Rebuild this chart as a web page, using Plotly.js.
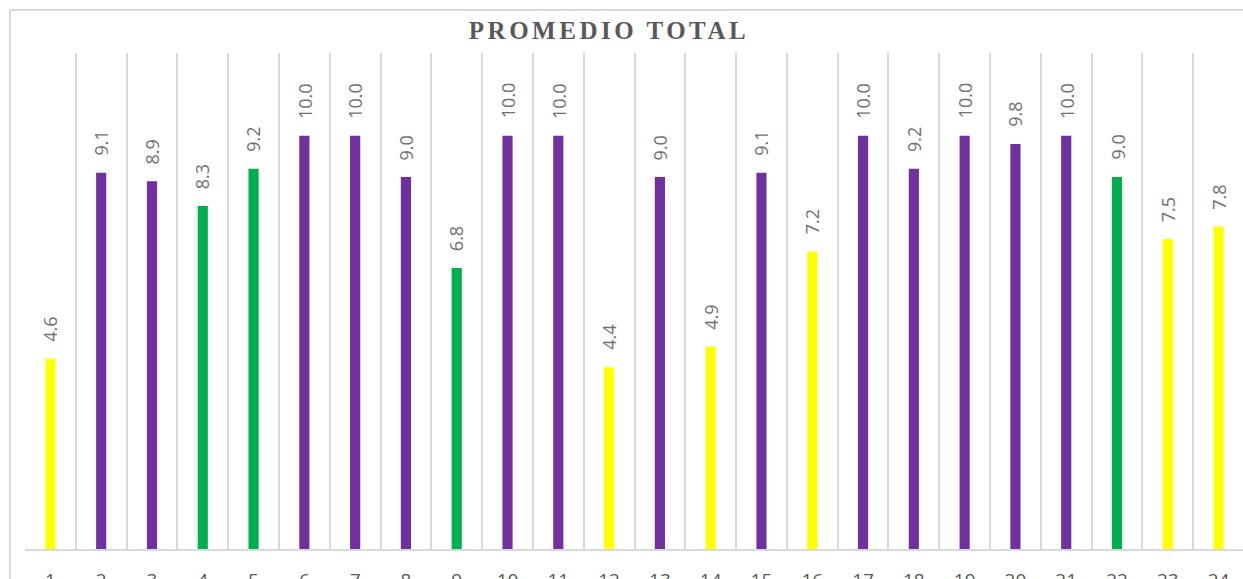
<!DOCTYPE html>
<html>
<head>
<meta charset="utf-8">
<script src="https://cdn.plot.ly/plotly-3.0.1.min.js"></script>
<style>
  html, body { margin: 0; padding: 0; background: #ffffff; overflow: hidden; width: 1243px; height: 579px; }
  #frame { position: absolute; left: 9px; top: 9px; width: 1300px; height: 700px; border-left: 2px solid #d9d9d9; border-top: 2px solid #d9d9d9; }
  #chart { position: absolute; left: 0; top: 0; width: 1250px; height: 600px; }
  .gtitle { letter-spacing: 3.5px; }
</style>
</head>
<body>
<div id="frame"></div>
<div id="chart"></div>
<script>
const categories = ["1","2","3","4","5","6","7","8","9","10","11","12","13","14","15","16","17","18","19","20","21","22","23","24"];
const values = [4.6, 9.1, 8.9, 8.3, 9.2, 10.0, 10.0, 9.0, 6.8, 10.0, 10.0, 4.4, 9.0, 4.9, 9.1, 7.2, 10.0, 9.2, 10.0, 9.8, 10.0, 9.0, 7.5, 7.8];
const groups = ["Y","P","P","G","G","P","P","P","G","P","P","Y","P","Y","P","Y","P","P","P","P","P","G","Y","Y"];
const chartTitle = "PROMEDIO TOTAL";

const palette = { Y: "#FFFF00", P: "#7030A0", G: "#00B050" };

const trace = {
  type: "bar",
  x: categories,
  y: values,
  width: 0.2,
  marker: { color: groups.map(g => palette[g]), line: { width: 0 } },
  hoverinfo: "x+y"
};

const annotations = categories.map((c, i) => ({
  x: i,
  y: values[i],
  xref: "x",
  yref: "y",
  text: values[i].toFixed(1),
  showarrow: false,
  textangle: -90,
  xanchor: "center",
  yanchor: "bottom",
  yshift: 15,
  font: { family: "Open Sans, sans-serif", size: 18, color: "#707070" }
}));

const layout = {
  width: 1250,
  height: 600,
  margin: { l: 25, r: 6, t: 53, b: 51 },
  paper_bgcolor: "rgba(0,0,0,0)",
  plot_bgcolor: "rgba(0,0,0,0)",
  showlegend: false,
  title: {
    text: "<b>" + chartTitle + "</b>",
    x: 609 / 1250,
    xanchor: "center",
    y: 1 - 30 / 600,
    yanchor: "middle",
    font: { family: "Liberation Serif, Times New Roman, serif", size: 25, color: "#595959" }
  },
  xaxis: {
    type: "category",
    tickson: "boundaries",
    showgrid: true,
    gridcolor: "#d9d9d9",
    gridwidth: 2,
    showline: true,
    linecolor: "#d9d9d9",
    linewidth: 2,
    ticks: "",
    ticklabelstandoff: 13,
    tickfont: { family: "Open Sans, sans-serif", size: 19, color: "#595959" },
    range: [-0.5, 23.5],
    zeroline: false
  },
  yaxis: {
    range: [0, 12],
    showgrid: false,
    showticklabels: false,
    zeroline: false,
    showline: false,
    ticks: ""
  },
  annotations: annotations,
  bargap: 0.8
};

Plotly.newPlot("chart", [trace], layout, { displayModeBar: false, staticPlot: true });
</script>
</body>
</html>
